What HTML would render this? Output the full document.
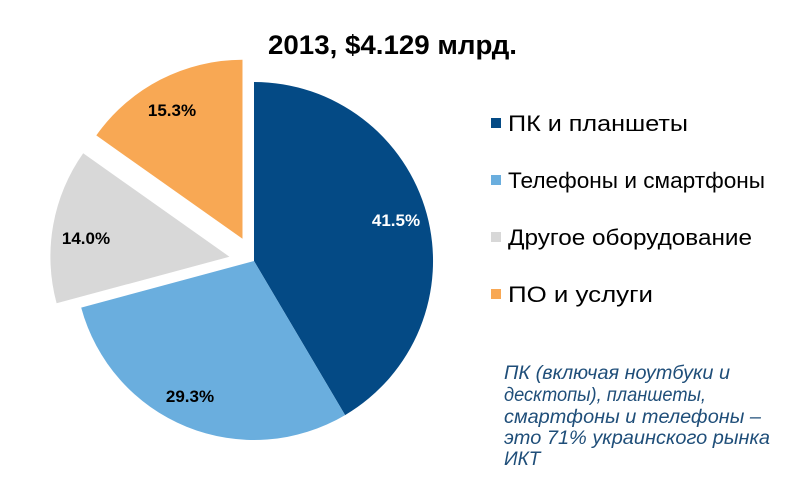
<!DOCTYPE html>
<html><head><meta charset="utf-8"><style>
body{margin:0;background:#fff;width:800px;height:491px;overflow:hidden}
svg{display:block;font-family:"Liberation Sans",Arial,sans-serif}
</style></head><body>
<svg width="800" height="491" viewBox="0 0 800 491">
<text x="268" y="54" textLength="249" lengthAdjust="spacingAndGlyphs" font-size="27" font-weight="bold" fill="#000">2013, $4.129 млрд.</text>
<path d="M254,261 L254,82 A179,179 0 0 1 345.1,415.1 Z" fill="#044a85"/>
<path d="M254,261 L345.1,415.1 A179,179 0 0 1 81.2,307.6 Z" fill="#6aaede"/>
<path d="M229.4,256.7 L56.6,303.3 A179,179 0 0 1 83.2,153.3 Z" fill="#d8d8d8"/>
<path d="M242.5,238.8 L96.3,135.4 A179,179 0 0 1 242.5,59.8 Z" fill="#f8a854"/>
<g font-size="17" font-weight="bold" text-anchor="middle">
<text x="396" y="226" fill="#fff">41.5%</text>
<text x="190" y="402" fill="#000">29.3%</text>
<text x="86" y="244" fill="#000">14.0%</text>
<text x="172" y="116" fill="#000">15.3%</text>
</g>
<g font-size="22" fill="#000">
<rect x="491" y="118" width="10" height="10" fill="#044a85"/><text x="508" y="131" textLength="180" lengthAdjust="spacingAndGlyphs">ПК и планшеты</text>
<rect x="491" y="175" width="10" height="10" fill="#6aaede"/><text x="508" y="188" textLength="257" lengthAdjust="spacingAndGlyphs">Телефоны и смартфоны</text>
<rect x="491" y="232" width="10" height="10" fill="#d8d8d8"/><text x="508" y="245" textLength="244" lengthAdjust="spacingAndGlyphs">Другое оборудование</text>
<rect x="491" y="289" width="10" height="10" fill="#f8a854"/><text x="508" y="302" textLength="145" lengthAdjust="spacingAndGlyphs">ПО и услуги</text>
</g>
<g font-size="19" font-style="italic" fill="#1f4e79">
<text x="504" y="379" textLength="226" lengthAdjust="spacingAndGlyphs">ПК (включая ноутбуки и</text>
<text x="504" y="401" textLength="202" lengthAdjust="spacingAndGlyphs">десктопы), планшеты,</text>
<text x="504" y="423" textLength="257" lengthAdjust="spacingAndGlyphs">смартфоны и телефоны –</text>
<text x="504" y="444" textLength="266" lengthAdjust="spacingAndGlyphs">это 71% украинского рынка</text>
<text x="504" y="465">ИКТ</text>
</g>
</svg>
</body></html>
